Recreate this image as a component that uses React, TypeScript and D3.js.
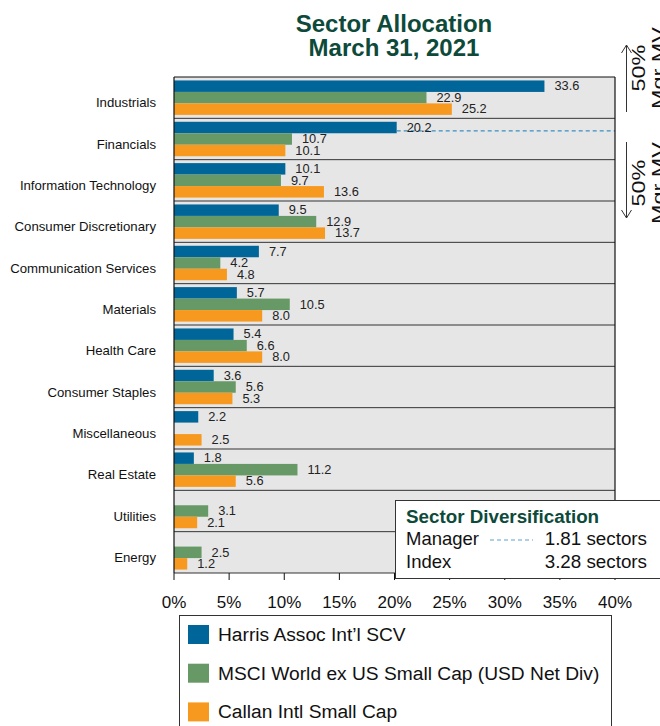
import React from "react";
import * as d3 from "d3";

const categories = [
  "Industrials",
  "Financials",
  "Information Technology",
  "Consumer Discretionary",
  "Communication Services",
  "Materials",
  "Health Care",
  "Consumer Staples",
  "Miscellaneous",
  "Real Estate",
  "Utilities",
  "Energy",
];

const seriesNames = [
  "Harris Assoc Int\u2019l SCV",
  "MSCI World ex US Small Cap (USD Net Div)",
  "Callan Intl Small Cap",
];

const harris: (number | null)[] = [33.6, 20.2, 10.1, 9.5, 7.7, 5.7, 5.4, 3.6, 2.2, 1.8, null, null];
const msci: (number | null)[] = [22.9, 10.7, 9.7, 12.9, 4.2, 10.5, 6.6, 5.6, null, 11.2, 3.1, 2.5];
const callan: (number | null)[] = [25.2, 10.1, 13.6, 13.7, 4.8, 8.0, 8.0, 5.3, 2.5, 5.6, 2.1, 1.2];

const seriesColors = ["#006699", "#669966", "#f7991f"];
const xTicks = [0, 5, 10, 15, 20, 25, 30, 35, 40];

const managerSectors = "1.81 sectors";
const indexSectors = "3.28 sectors";
const managerCutoff = 20.2; // cumulative 50% line at Financials

const FONT = "'Liberation Sans', Arial, Helvetica, sans-serif";
const TITLE_GREEN = "#0d4a3a";

export default function App() {
  const W = 660;
  const H = 726;
  const left = 174;
  const right = 615;
  const top = 77;
  const bottom = 573;

  const x = d3.scaleLinear().domain([0, 40]).range([left, right]);
  const y = d3.scaleBand<string>().domain(categories).range([top, bottom]).padding(0);
  const inner = d3
    .scaleBand<string>()
    .domain(seriesNames)
    .range([0, y.bandwidth()])
    .paddingInner(0)
    .paddingOuter(0.3);

  const allSeries = [harris, msci, callan];

  const finY = (y("Financials") ?? 0) + (inner(seriesNames[0]) ?? 0) + inner.bandwidth() * 0.8;

  const arrowHead = (cx: number, cy: number, dir: number) =>
    `M${cx - 5},${cy + dir * 8} L${cx},${cy} L${cx + 5},${cy + dir * 8}`;

  return (
    <svg
      width={W}
      height={H}
      style={{ position: "absolute", left: 0, top: 0, background: "#fff" }}
      fontFamily={FONT}
    >
      {/* Title */}
      <text x={394} y={32} textAnchor="middle" fontSize={24} fontWeight="bold" fill={TITLE_GREEN}>
        Sector Allocation
      </text>
      <text x={394} y={56} textAnchor="middle" fontSize={24} fontWeight="bold" fill={TITLE_GREEN}>
        March 31, 2021
      </text>

      {/* Plot background */}
      <rect x={left} y={top} width={right - left} height={bottom - top} fill="#e6e6e6" />

      {/* Row separators */}
      {categories.map((c, i) =>
        i === 0 ? null : (
          <line key={"sep" + c} x1={left} x2={right} y1={y(c)} y2={y(c)} stroke="#333" strokeWidth={1} />
        )
      )}

      {/* Bars */}
      {allSeries.map((vals, si) =>
        vals.map((v, ci) =>
          v == null ? null : (
            <rect
              key={`b${si}-${ci}`}
              x={x(0)}
              y={(y(categories[ci]) ?? 0) + (inner(seriesNames[si]) ?? 0)}
              width={x(v) - x(0)}
              height={inner.bandwidth()}
              fill={seriesColors[si]}
            />
          )
        )
      )}

      {/* Manager dashed line */}
      <line
        x1={x(managerCutoff)}
        x2={right}
        y1={finY}
        y2={finY}
        stroke="#3a8fc4"
        strokeWidth={1.2}
        strokeDasharray="4,3"
      />

      {/* Value labels */}
      {allSeries.map((vals, si) =>
        vals.map((v, ci) =>
          v == null ? null : (
            <text
              key={`l${si}-${ci}`}
              x={x(v) + 10}
              y={(y(categories[ci]) ?? 0) + (inner(seriesNames[si]) ?? 0) + inner.bandwidth() / 2 + 4.3}
              fontSize={12.8}
              fill="#222"
            >
              {v.toFixed(1)}
            </text>
          )
        )
      )}

      {/* Category labels */}
      {categories.map((c) => (
        <text
          key={"cat" + c}
          x={156}
          y={(y(c) ?? 0) + y.bandwidth() / 2 + 9.8}
          textAnchor="end"
          fontSize={13.2}
          fill="#111"
        >
          {c}
        </text>
      ))}

      {/* Plot frame */}
      <line x1={left} x2={right} y1={top} y2={top} stroke="#111" strokeWidth={1.2} />
      <line x1={right} x2={right} y1={top} y2={bottom} stroke="#111" strokeWidth={1.2} />
      <line x1={left} x2={right} y1={bottom} y2={bottom} stroke="#333" strokeWidth={1} />
      <line x1={left} x2={left} y1={top} y2={bottom} stroke="#111" strokeWidth={1.2} />

      {/* X ticks */}
      {xTicks.map((t) => (
        <g key={"t" + t}>
          <line x1={x(t)} x2={x(t)} y1={bottom} y2={bottom + 7} stroke="#111" strokeWidth={1} />
          <text x={x(t)} y={608} textAnchor="middle" fontSize={17} fill="#111">
            {t}%
          </text>
        </g>
      ))}

      {/* Sector diversification box */}
      <rect x={395.5} y={500.5} width={280} height={78} fill="#fff" stroke="#333" strokeWidth={1} />
      <text x={406} y={523} fontSize={18.8} fontWeight="bold" fill={TITLE_GREEN}>
        Sector Diversification
      </text>
      <text x={406} y={545} fontSize={18.5} fill="#111">
        Manager
      </text>
      <line x1={490} x2={533} y1={540} y2={540} stroke="#5ba3d0" strokeWidth={1.2} strokeDasharray="4,3" />
      <text x={647} y={545} fontSize={18.8} fill="#111" textAnchor="end">
        {managerSectors}
      </text>
      <text x={406} y={568} fontSize={18.5} fill="#111">
        Index
      </text>
      <text x={647} y={568} fontSize={18.8} fill="#111" textAnchor="end">
        {indexSectors}
      </text>

      {/* Right annotation arrows */}
      <line x1={626.5} x2={626.5} y1={45} y2={112} stroke="#333" strokeWidth={1} />
      <path d={arrowHead(626.5, 45, 1)} fill="none" stroke="#333" strokeWidth={1} />
      <line x1={626.5} x2={626.5} y1={142} y2={218} stroke="#333" strokeWidth={1} />
      <path d={arrowHead(626.5, 218, -1)} fill="none" stroke="#333" strokeWidth={1} />
      {[68, 183].map((cy, i) => (
        <g key={"ann" + i} transform={`translate(0,${cy})`}>
          <text transform="translate(645,0) rotate(-90) scale(1.3,1)" textAnchor="middle" fontSize={18} fill="#111">
            50%
          </text>
          <text transform="translate(665,0) rotate(-90) scale(1.3,1)" textAnchor="middle" fontSize={18} fill="#111">
            Mgr MV
          </text>
        </g>
      ))}

      {/* Legend */}
      <rect x={179.5} y={615.5} width={432} height={120} fill="#fff" stroke="#333" strokeWidth={1} />
      {seriesNames.map((s, i) => (
        <g key={"lg" + s}>
          <rect x={188} y={625 + i * 38.7} width={21} height={19} fill={seriesColors[i]} />
          <text x={218} y={641 + i * 38.7} fontSize={19.2} fill="#111">
            {s}
          </text>
        </g>
      ))}
    </svg>
  );
}
